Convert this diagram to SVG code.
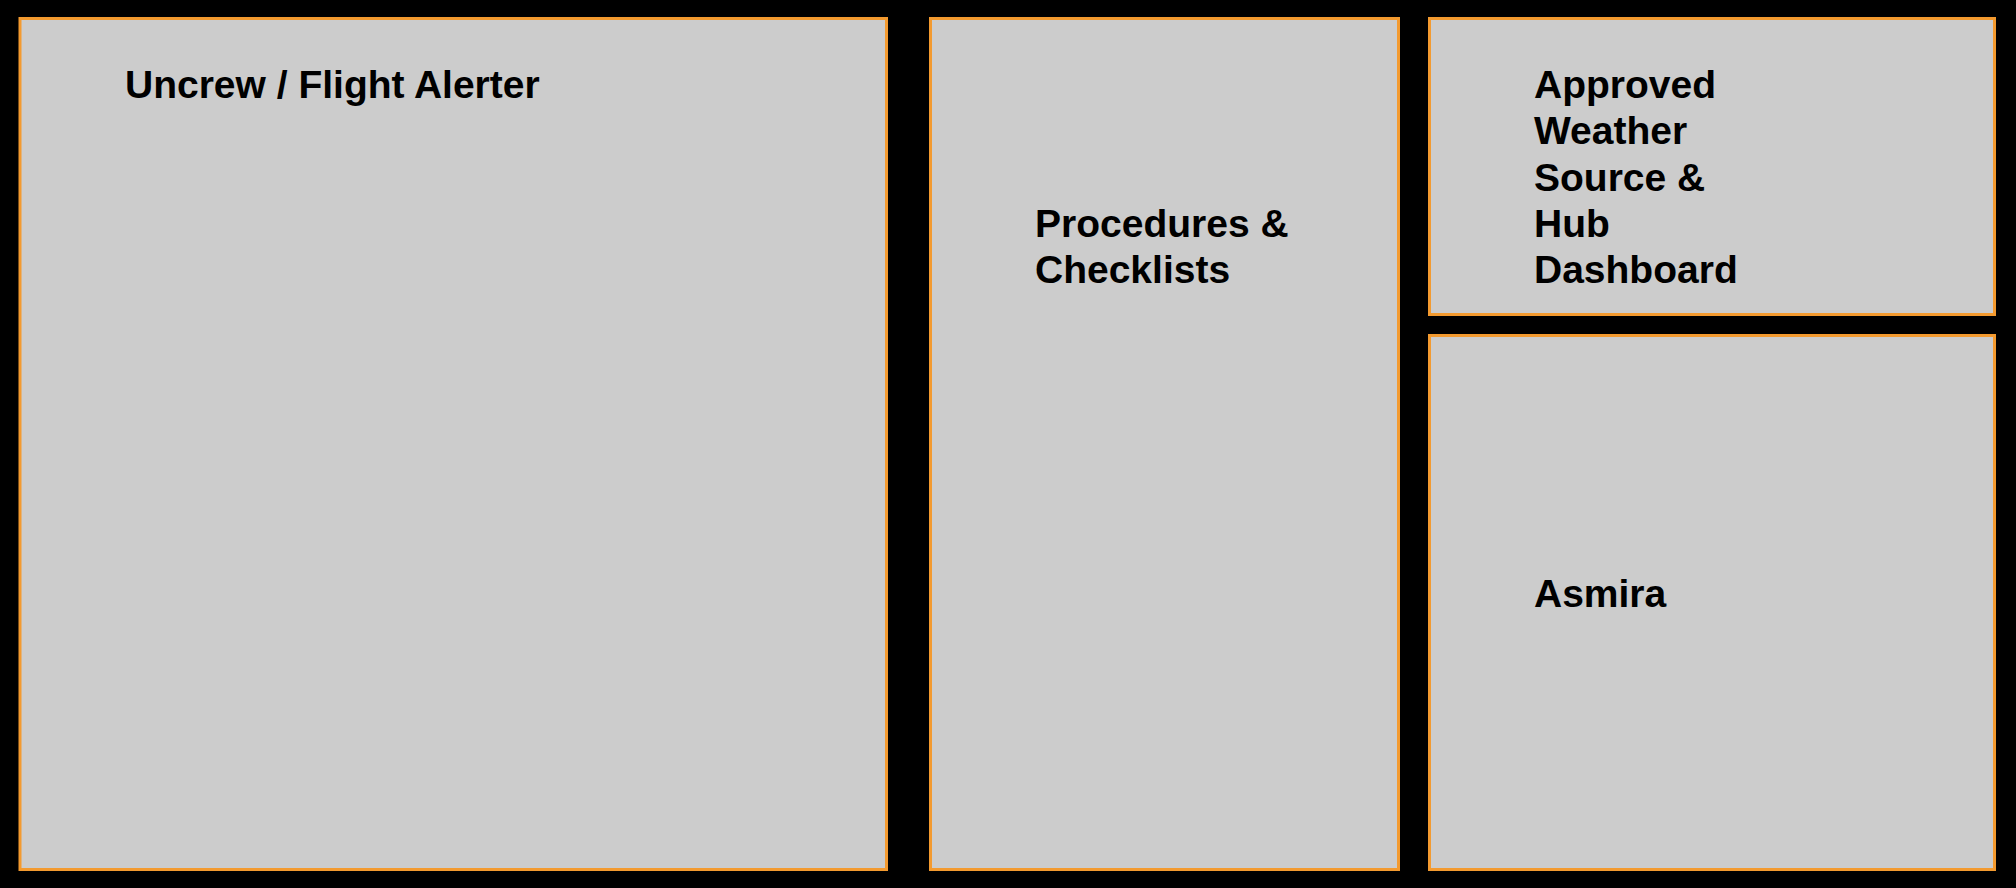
<svg xmlns="http://www.w3.org/2000/svg" width="2016" height="888" viewBox="0 0 2016 888">
<style>
.box{fill:#cccccc;stroke:#f39a2f;stroke-width:3}
.lbl{font-family:"Liberation Sans",Arial,sans-serif;font-weight:bold;font-size:39px;fill:#000000}
</style>
<rect x="0" y="0" width="2016" height="888" fill="#000000"/>
<g id="node-uncrew">
<rect class="box" x="20" y="18.5" width="866.5" height="851"/>
<text class="lbl" x="125" y="97.5">Uncrew / Flight Alerter</text>
</g>
<g id="node-procedures">
<rect class="box" x="930.5" y="18.5" width="468" height="851"/>
<text class="lbl" x="1035" y="236.5"><tspan x="1035" y="236.5">Procedures &amp;</tspan><tspan x="1035" y="283">Checklists</tspan></text>
</g>
<g id="node-weather">
<rect class="box" x="1429.5" y="18.5" width="565" height="296"/>
<text class="lbl" x="1534" y="97.5"><tspan x="1534" y="97.5">Approved</tspan><tspan x="1534" y="144">Weather</tspan><tspan x="1534" y="190.5">Source &amp;</tspan><tspan x="1534" y="236.5">Hub</tspan><tspan x="1534" y="283">Dashboard</tspan></text>
</g>
<g id="node-asmira">
<rect class="box" x="1429.5" y="335.5" width="565" height="534"/>
<text class="lbl" x="1534" y="607">Asmira</text>
</g>
<g id="connectors"></g>
</svg>
